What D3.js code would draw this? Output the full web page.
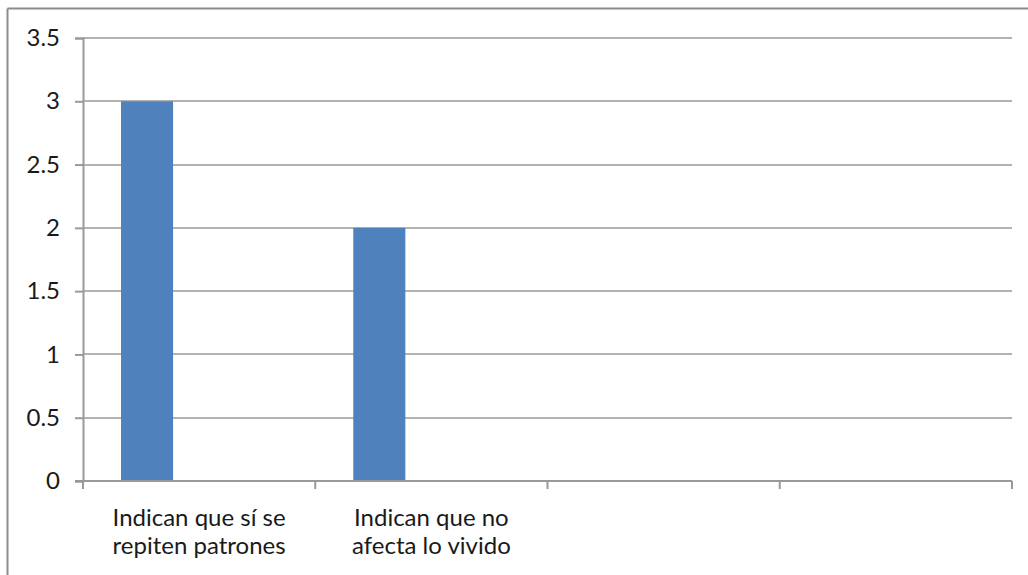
<!DOCTYPE html>
<html>
<head>
<meta charset="utf-8">
<script src="https://cdn.jsdelivr.net/npm/d3@7"></script>
<style>
  html, body { margin: 0; padding: 0; background: #ffffff; }
  svg { display: block; }
  text { font-family: "Lato", "Open Sans", sans-serif; fill: #1a1a1a; }
</style>
</head>
<body>
<svg id="chart" width="1028" height="575"></svg>
<script>
// ---- data ----
const categories = ["Indican que sí se\nrepiten patrones", "Indican que no\nafecta lo vivido", "", ""];
const seriesSlots = ["Serie 1", "Serie 2", "Serie 3"];
const series1Values = [3, 2, null, null];
const yTicks = [0, 0.5, 1, 1.5, 2, 2.5, 3, 3.5];

// ---- layout ----
const W = 1028, H = 575;
const plot = { left: 83, right: 1012, top: 38, bottom: 481 };

const svg = d3.select("#chart");

// outer frame (top and left edges visible)
svg.append("line").attr("x1", 7.5).attr("x2", W).attr("y1", 8.5).attr("y2", 8.5)
  .attr("stroke", "#8c8c8c").attr("stroke-width", 2);
svg.append("line").attr("x1", 7.5).attr("x2", 7.5).attr("y1", 8.5).attr("y2", H)
  .attr("stroke", "#8c8c8c").attr("stroke-width", 2);

const x0 = d3.scaleBand().domain(d3.range(categories.length))
  .range([plot.left, plot.right]).paddingInner(0).paddingOuter(0);
const x1 = d3.scaleBand().domain(seriesSlots)
  .range([0, x0.bandwidth()]).paddingInner(0).paddingOuter(0.73);
const y = d3.scaleLinear().domain([0, 3.5]).range([plot.bottom, plot.top]);

// gridlines
svg.append("g").selectAll("line").data(yTicks.filter(t => t > 0)).join("line")
  .attr("x1", plot.left).attr("x2", plot.right)
  .attr("y1", d => Math.round(y(d))).attr("y2", d => Math.round(y(d)))
  .attr("stroke", "#b3b3b3").attr("stroke-width", 2);

// bars
svg.append("g").selectAll("rect").data(series1Values.map((v, i) => ({ v, i })).filter(d => d.v != null)).join("rect")
  .attr("x", d => x0(d.i) + x1("Serie 1"))
  .attr("width", x1.bandwidth())
  .attr("y", d => y(d.v))
  .attr("height", d => y(0) - y(d.v))
  .attr("fill", "#4f81bd");

// y axis
const yAxis = svg.append("g").attr("transform", `translate(${plot.left},0)`)
  .call(d3.axisLeft(y).tickValues(yTicks).tickSize(8).tickPadding(15)
    .tickFormat(d => String(d)));
yAxis.select(".domain").attr("stroke", "#999999").attr("stroke-width", 2);
yAxis.selectAll(".tick line").attr("stroke", "#999999").attr("stroke-width", 2);
yAxis.selectAll(".tick text").attr("font-size", 24).attr("font-family", "Lato, sans-serif")
  .attr("fill", "#1a1a1a");

// x axis
const xAxis = svg.append("g").attr("transform", `translate(0,${plot.bottom})`);
xAxis.append("line").attr("x1", plot.left - 8).attr("x2", plot.right)
  .attr("stroke", "#999999").attr("stroke-width", 2);
const boundaries = d3.range(categories.length + 1).map(i =>
  i < categories.length ? x0(i) : x0(categories.length - 1) + x0.bandwidth());
xAxis.selectAll("line.tk").data(boundaries).join("line").attr("class", "tk")
  .attr("x1", d => d).attr("x2", d => d).attr("y1", 0).attr("y2", 8)
  .attr("stroke", "#999999").attr("stroke-width", 2);

// category labels
const lbl = svg.append("g").selectAll("text").data(categories).join("text")
  .attr("text-anchor", "middle")
  .attr("font-size", 24)
  .attr("x", (d, i) => x0(i) + x0.bandwidth() / 2)
  .attr("y", 526);
lbl.each(function(d) {
  const t = d3.select(this);
  d.split("\n").forEach((line, k) => {
    t.append("tspan").attr("x", t.attr("x")).attr("dy", k === 0 ? 0 : 28).text(line);
  });
});
</script>
</body>
</html>
